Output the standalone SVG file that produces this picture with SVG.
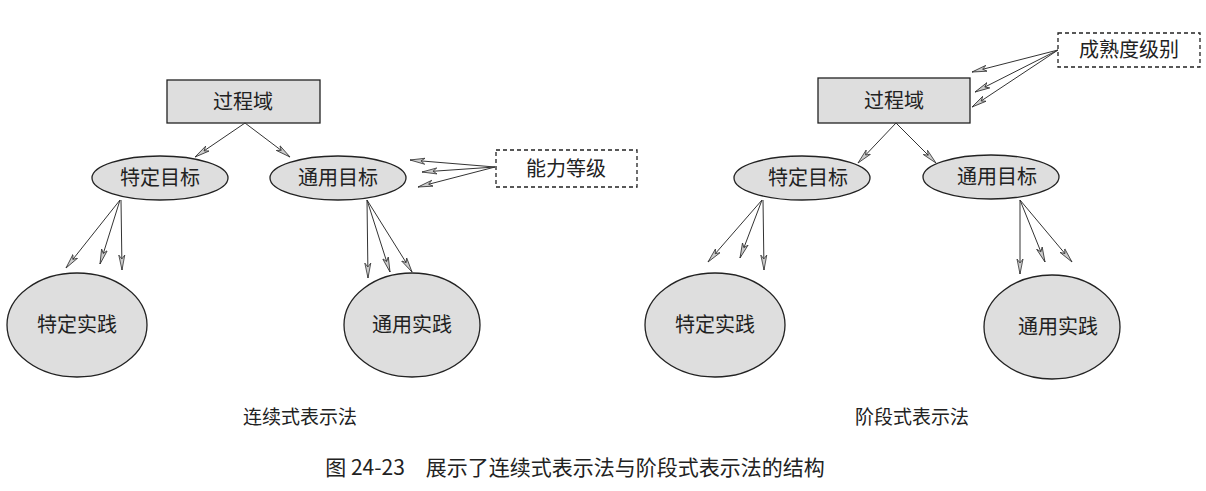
<svg xmlns="http://www.w3.org/2000/svg" width="1206" height="491" viewBox="0 0 1206 491">
<style>
.n{fill:#dedede;stroke:#222;stroke-width:1.3}
.d{fill:#fff;stroke:#222;stroke-width:1.3;stroke-dasharray:4,3}
text{font-family:"Noto Sans CJK SC","Liberation Serif",serif;fill:#222;text-anchor:middle}
.t{font-size:20px}
.c line{stroke:#333;stroke-width:1;marker-end:url(#a)}
</style>
<defs>
<marker id="a" markerWidth="16" markerHeight="8" refX="15" refY="4" orient="auto" markerUnits="userSpaceOnUse">
<path d="M0,1 L15,4 L0,7 L4,4 Z" fill="#ccc" stroke="#333" stroke-width="0.8"/>
</marker>
</defs>
<g id="L_domain"><rect class="n" x="167" y="80" width="153" height="43"/><text class="t" x="243" y="109">过程域</text></g>
<g id="L_sg"><ellipse class="n" cx="160" cy="178" rx="68" ry="22"/><text class="t" x="160" y="185">特定目标</text></g>
<g id="L_gg"><ellipse class="n" cx="338" cy="178" rx="68" ry="22"/><text class="t" x="338" y="185">通用目标</text></g>
<g id="L_sp"><ellipse class="n" cx="77" cy="325" rx="70" ry="52"/><text class="t" x="77" y="332">特定实践</text></g>
<g id="L_gp"><ellipse class="n" cx="412" cy="325" rx="68" ry="52"/><text class="t" x="412" y="332">通用实践</text></g>
<g id="L_cap"><rect class="d" x="496" y="150" width="141" height="37"/><text class="t" x="566" y="176">能力等级</text></g>
<g id="R_domain"><rect class="n" x="818" y="78" width="152" height="45"/><text class="t" x="894" y="108">过程域</text></g>
<g id="R_sg"><ellipse class="n" cx="802" cy="178" rx="68" ry="22"/><text class="t" x="808" y="185">特定目标</text></g>
<g id="R_gg"><ellipse class="n" cx="991" cy="177" rx="68" ry="22"/><text class="t" x="997" y="184">通用目标</text></g>
<g id="R_sp"><ellipse class="n" cx="715" cy="325" rx="70" ry="52"/><text class="t" x="715" y="332">特定实践</text></g>
<g id="R_gp"><ellipse class="n" cx="1052" cy="327" rx="68" ry="52"/><text class="t" x="1058" y="334">通用实践</text></g>
<g id="R_mat"><rect class="d" x="1058" y="33" width="142" height="34"/><text class="t" x="1129" y="57">成熟度级别</text></g>
<g class="c" id="connectors">
<line x1="245" y1="123" x2="195" y2="157"/>
<line x1="245" y1="123" x2="290" y2="157"/>
<line x1="120" y1="200" x2="66" y2="268"/>
<line x1="120" y1="200" x2="100" y2="264"/>
<line x1="121" y1="200" x2="122" y2="270"/>
<line x1="367" y1="200" x2="368" y2="278"/>
<line x1="367" y1="200" x2="390" y2="272"/>
<line x1="367" y1="200" x2="412" y2="272"/>
<line x1="495" y1="167" x2="410" y2="160"/>
<line x1="495" y1="167" x2="422" y2="172"/>
<line x1="495" y1="167" x2="418" y2="187"/>
<line x1="896" y1="123" x2="858" y2="163"/>
<line x1="896" y1="123" x2="936" y2="163"/>
<line x1="762" y1="200" x2="708" y2="262"/>
<line x1="762" y1="200" x2="740" y2="258"/>
<line x1="763" y1="200" x2="764" y2="270"/>
<line x1="1020" y1="200" x2="1020" y2="274"/>
<line x1="1020" y1="200" x2="1045" y2="262"/>
<line x1="1020" y1="200" x2="1072" y2="262"/>
<line x1="1058" y1="50" x2="972" y2="72"/>
<line x1="1058" y1="50" x2="975" y2="92"/>
<line x1="1058" y1="50" x2="972" y2="107"/>
</g>
<text class="t" x="300" y="424" style="font-size:19px">连续式表示法</text>
<text class="t" x="912" y="424" style="font-size:19px">阶段式表示法</text>
<text x="575" y="475" style="font-size:21px">图 24-23　展示了连续式表示法与阶段式表示法的结构</text>
</svg>
